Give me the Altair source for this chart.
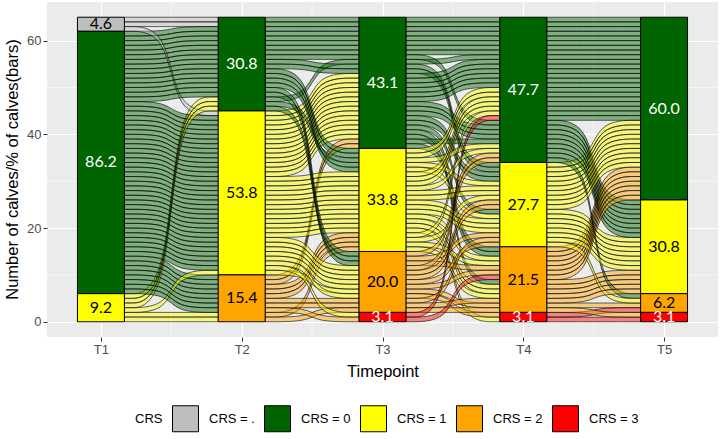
import altair as alt
import pandas as pd

timepoints = ["T1", "T2", "T3", "T4", "T5"]
levels = [".", "0", "1", "2", "3"]
level_labels = ["CRS = .", "CRS = 0", "CRS = 1", "CRS = 2", "CRS = 3"]
level_colors = ["#BEBEBE", "#006400", "#FFFF00", "#FFA500", "#FF0000"]
label_colors = ["black", "white", "black", "black", "white"]

# CRS score of each calf at T1..T5 (one string per calf)
calf_paths = [
    ".0000", ".0000",
    "00000", "00000", "00000", "00000", "00000", "00000", "10000", "00001",
    "00010", "00010",
    ".1000",
    "01000", "01000", "01000", "01000", "01000", "01001", "01001", "01001",
    "01010", "01010", "01011",
    "01020", "01021",
    "02001", "02020",
    "00100", "00100", "10101",
    "00110", "00111",
    "01111", "01121",
    "01100", "01100", "01100", "01101",
    "01110", "01110", "01111", "01111",
    "01120", "01121", "01133",
    "02100", "02110", "02120", "12121",
    "00201", "10211", "00220",
    "01210", "11222", "01202", "01210", "01212", "01220", "01232",
    "02211", "02221", "12223",
    "01300", "02320",
]

y_ticks = [0, 20, 40, 60]
y_minor = [10, 30, 50]
x_minor = [1.5, 2.5, 3.5, 4.5]

n_calves = len(calf_paths)
n_ax = len(timepoints)
rank = {l: i for i, l in enumerate(levels)}
half = 1 / 6


def zigzag(n, i):
    order = [i]
    left_first = i <= n - 1 - i
    d = 1
    while len(order) < n:
        cands = [i - d, i + d] if left_first else [i + d, i - d]
        for c in cands:
            if 0 <= c < n:
                order.append(c)
        d += 1
    return order


lode = {}
for a in range(n_ax):
    g = zigzag(n_ax, a)
    order = sorted(range(n_calves),
                   key=lambda c: tuple(rank[calf_paths[c][j]] for j in g) + (c,))
    for pos, c in enumerate(order):
        top = n_calves - pos
        lode[(a, c)] = (top, top - 1)

fr = [0.0, 0.45, 0.55, 1.0]
rows = []
for c in range(n_calves):
    for s in range(n_ax - 1):
        x0 = s + 1 + half
        x1 = s + 2 - half
        t0, b0 = lode[(s, c)]
        t1, b1 = lode[(s + 1, c)]
        cat = level_labels[rank[calf_paths[c][s]]]
        for k, f in enumerate(fr):
            rows.append(dict(rid=c * 10 + s, k=k, x=x0 + f * (x1 - x0),
                             yt=t0 if k < 2 else t1, yb=b0 if k < 2 else b1,
                             cat=cat))
ribbons = pd.DataFrame(rows)

bar_rows = []
for a in range(n_ax):
    top = n_calves
    for li, l in enumerate(levels):
        n = sum(1 for p in calf_paths if p[a] == l)
        if n == 0:
            continue
        bar_rows.append(dict(x0=a + 1 - half, x1=a + 1 + half, xc=a + 1,
                             y0=top - n, y1=top, ym=top - n / 2,
                             cat=level_labels[li],
                             pct=f"{100 * n / n_calves:.1f}",
                             tcol=label_colors[li]))
        top -= n
bars = pd.DataFrame(bar_rows)

xs = alt.Scale(domain=[0.617, 5.383], nice=False, zero=False)
ys = alt.Scale(domain=[-3.25, 68.25], nice=False, zero=False)
cs = alt.Scale(domain=level_labels, range=level_colors)

x_axis = alt.Axis(
    values=[1, 2, 3, 4, 5], labelExpr="'T' + datum.value", title="Timepoint",
    grid=True, gridColor="white", gridWidth=1.1, domain=False,
    tickColor="#333333", tickSize=4, labelColor="#4D4D4D", labelFontSize=13,
    labelPadding=2, titleFontSize=16.5, titleFontWeight="normal",
    titleColor="black", titleY=34, titleBaseline="middle")
y_axis = alt.Axis(
    values=y_ticks, title="Number of calves/% of calves(bars)",
    grid=True, gridColor="white", gridWidth=1.1, domain=False,
    tickColor="#333333", tickSize=4, labelColor="#4D4D4D", labelFontSize=13,
    labelPadding=2, titleFontSize=16.5, titleFontWeight="normal",
    titleColor="black", titleX=-35, titleY=167, titleAngle=270,
    titleBaseline="middle", titleAlign="center")
legend = alt.Legend(
    title="CRS", orient="none", legendX=88, legendY=403,
    direction="horizontal", titleOrient="left", symbolType="square",
    symbolSize=676, symbolStrokeColor="black", symbolStrokeWidth=1,
    symbolOpacity=1, labelFontSize=13, titleFontSize=13,
    titleFontWeight="normal", labelOffset=10, columnPadding=7,
    titlePadding=9, labelColor="black", titleColor="black",
    titleBaseline="middle")

minor_y = alt.Chart(pd.DataFrame({"v": y_minor})).mark_rule(
    color="white", strokeWidth=0.55).encode(
    y=alt.Y("v:Q", scale=ys, axis=y_axis))
minor_x = alt.Chart(pd.DataFrame({"v": x_minor})).mark_rule(
    color="white", strokeWidth=0.55).encode(
    x=alt.X("v:Q", scale=xs, axis=x_axis))

flows = alt.Chart(ribbons).mark_area(
    interpolate="basis", fillOpacity=0.45, stroke="black",
    strokeWidth=1, strokeOpacity=0.6).encode(
    x=alt.X("x:Q", scale=xs, axis=x_axis),
    y=alt.Y("yt:Q", scale=ys, axis=y_axis),
    y2="yb:Q",
    fill=alt.Fill("cat:N", scale=cs, legend=legend),
    detail="rid:N",
)

rects = alt.Chart(bars).mark_rect(stroke="black", strokeWidth=1).encode(
    x=alt.X("x0:Q", scale=xs, axis=x_axis),
    x2="x1:Q",
    y=alt.Y("y0:Q", scale=ys, axis=y_axis),
    y2="y1:Q",
    fill=alt.Fill("cat:N", scale=cs, legend=legend),
)

labels = alt.Chart(bars).mark_text(font="Lato", fontSize=16).encode(
    x=alt.X("xc:Q", scale=xs, axis=x_axis),
    y=alt.Y("ym:Q", scale=ys, axis=y_axis),
    text="pct:N",
    color=alt.Color("tcol:N", scale=None),
)

chart = alt.layer(minor_y, minor_x, flows, rects, labels).properties(
    width=671, height=335,
    autosize=alt.AutoSizeParams(type="none"),
    padding={"left": 47, "top": 2, "right": 5, "bottom": 102},
).configure(font="Liberation Sans", background="white").configure_view(
    fill="#EBEBEB", strokeWidth=0)

chart.save("out.html", embed_options={"renderer": "svg", "actions": False})
